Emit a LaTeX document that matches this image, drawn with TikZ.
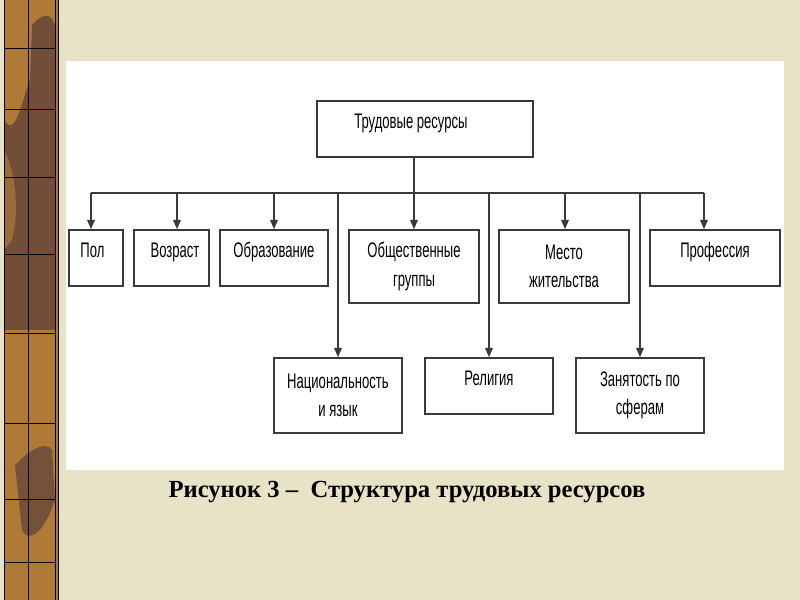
\documentclass[tikz,border=0pt]{standalone}
\usepackage{fontspec}
\setmainfont{Liberation Serif}
\newfontfamily\boxfont[FakeStretch=0.62]{Liberation Sans}
\usepackage{tikz}
\usetikzlibrary{arrows.meta}

\definecolor{beige}{HTML}{E8E2C6}
\definecolor{gold}{HTML}{AE7A36}
\definecolor{bark}{HTML}{6C4A3A}
\definecolor{ink}{HTML}{3A3A3A}

\begin{document}
\begin{tikzpicture}[x=0.03cm, y=-0.03cm,
    box/.style={draw=ink, line width=1.3pt, fill=white, inner sep=0pt,
        align=center, font=\boxfont\fontsize{18}{24}\selectfont},
    up/.style={text depth=14pt},
    link/.style={draw=ink, line width=1.3pt},
    tip/.style={link, -{Triangle[length=8pt,width=6.5pt]}}]
    \useasboundingbox (0, 0) rectangle (800, 600);

    % slide background and left strip
    \fill[beige] (0, 0) rectangle (800, 600);
    \fill[gold] (4, 0) rectangle (58, 600);
    \fill[bark, opacity=0.9] (32, 25) .. controls (45, 10) and (55, 15) .. (55, 30)
        -- (55, 330) -- (4, 330) -- (4, 120) .. controls (15, 140) and (22, 100) .. (30, 80) -- cycle;
    \fill[gold!70!bark] (4, 150) .. controls (15, 170) and (20, 210) .. (12, 240) -- (4, 250) -- cycle;
    \fill[bark, opacity=0.85] (15, 465) .. controls (30, 450) and (45, 440) .. (52, 450)
        -- (55, 500) .. controls (45, 530) and (30, 545) .. (22, 530) -- cycle;
    \draw[black, line width=0.8pt] (4, 0) -- (4, 600);
    \draw[black, line width=0.5pt] (28, 0) -- (28, 600);
    \draw[black, line width=0.8pt] (55, 0) -- (55, 600);
    \draw[black, line width=0.8pt] (58, 0) -- (58, 600);
    \foreach \y in {48, 109, 177, 254, 333, 423, 499, 562} {
        \draw[black, line width=0.5pt] (4, \y) -- (55, \y);
    }

    % white panel
    \fill[white] (66, 61) rectangle (784, 470);

    % boxes
    \node[box, up, minimum width=6.48cm, minimum height=1.68cm] (trud) at (425, 129) {Трудовые ресурсы\hspace{24pt}};

    \node[box, up, minimum width=1.62cm, minimum height=1.68cm] (pol) at (96, 258) {Пол\hspace{6pt}};
    \node[box, up, minimum width=2.25cm, minimum height=1.68cm] (vozr) at (171.5, 258) {\hspace{6pt}Возраст};
    \node[box, up, minimum width=3.24cm, minimum height=1.68cm] (obr) at (274, 258) {Образование};
    \node[box, minimum width=3.9cm, minimum height=2.19cm] (obsh) at (414, 266.5) {Общественные\\группы};
    \node[box, minimum width=3.9cm, minimum height=2.19cm] (mesto) at (564, 266.5) {Место\\жительства};
    \node[box, up, minimum width=3.9cm, minimum height=1.68cm] (prof) at (715, 258) {Профессия};

    \node[box, minimum width=3.84cm, minimum height=2.25cm] (nac) at (338, 395.5) {Национальность\\и язык};
    \node[box, up, minimum width=3.84cm, minimum height=1.68cm] (rel) at (489, 386) {Религия};
    \node[box, minimum width=3.84cm, minimum height=2.25cm] (zan) at (640, 395.5) {Занятость по\\сферам};

    % connectors
    \coordinate (bus) at (414, 193);
    \coordinate (b1) at (91, 193);
    \coordinate (b2) at (177, 193);
    \coordinate (b3) at (274, 193);
    \coordinate (b5) at (565, 193);
    \coordinate (b6) at (704, 193);

    \draw[link] (b1) -- (b6);
    \draw[tip] (trud.south -| obsh.north) -- (obsh.north);
    \draw[tip] (b1) -- (b1 |- pol.north);
    \draw[tip] (b2) -- (b2 |- vozr.north);
    \draw[tip] (b3) -- (b3 |- obr.north);
    \draw[tip] (b5) -- (b5 |- mesto.north);
    \draw[tip] (b6) -- (b6 |- prof.north);
    \draw[tip] (nac.north |- bus) -- (nac.north);
    \draw[tip] (rel.north |- bus) -- (rel.north);
    \draw[tip] (zan.north |- bus) -- (zan.north);

    % caption
    \node[font=\bfseries\fontsize{21}{24}\selectfont] (cap) at (407, 492)
        {Рисунок 3 –\ \ Структура трудовых ресурсов};

\end{tikzpicture}
\end{document}
